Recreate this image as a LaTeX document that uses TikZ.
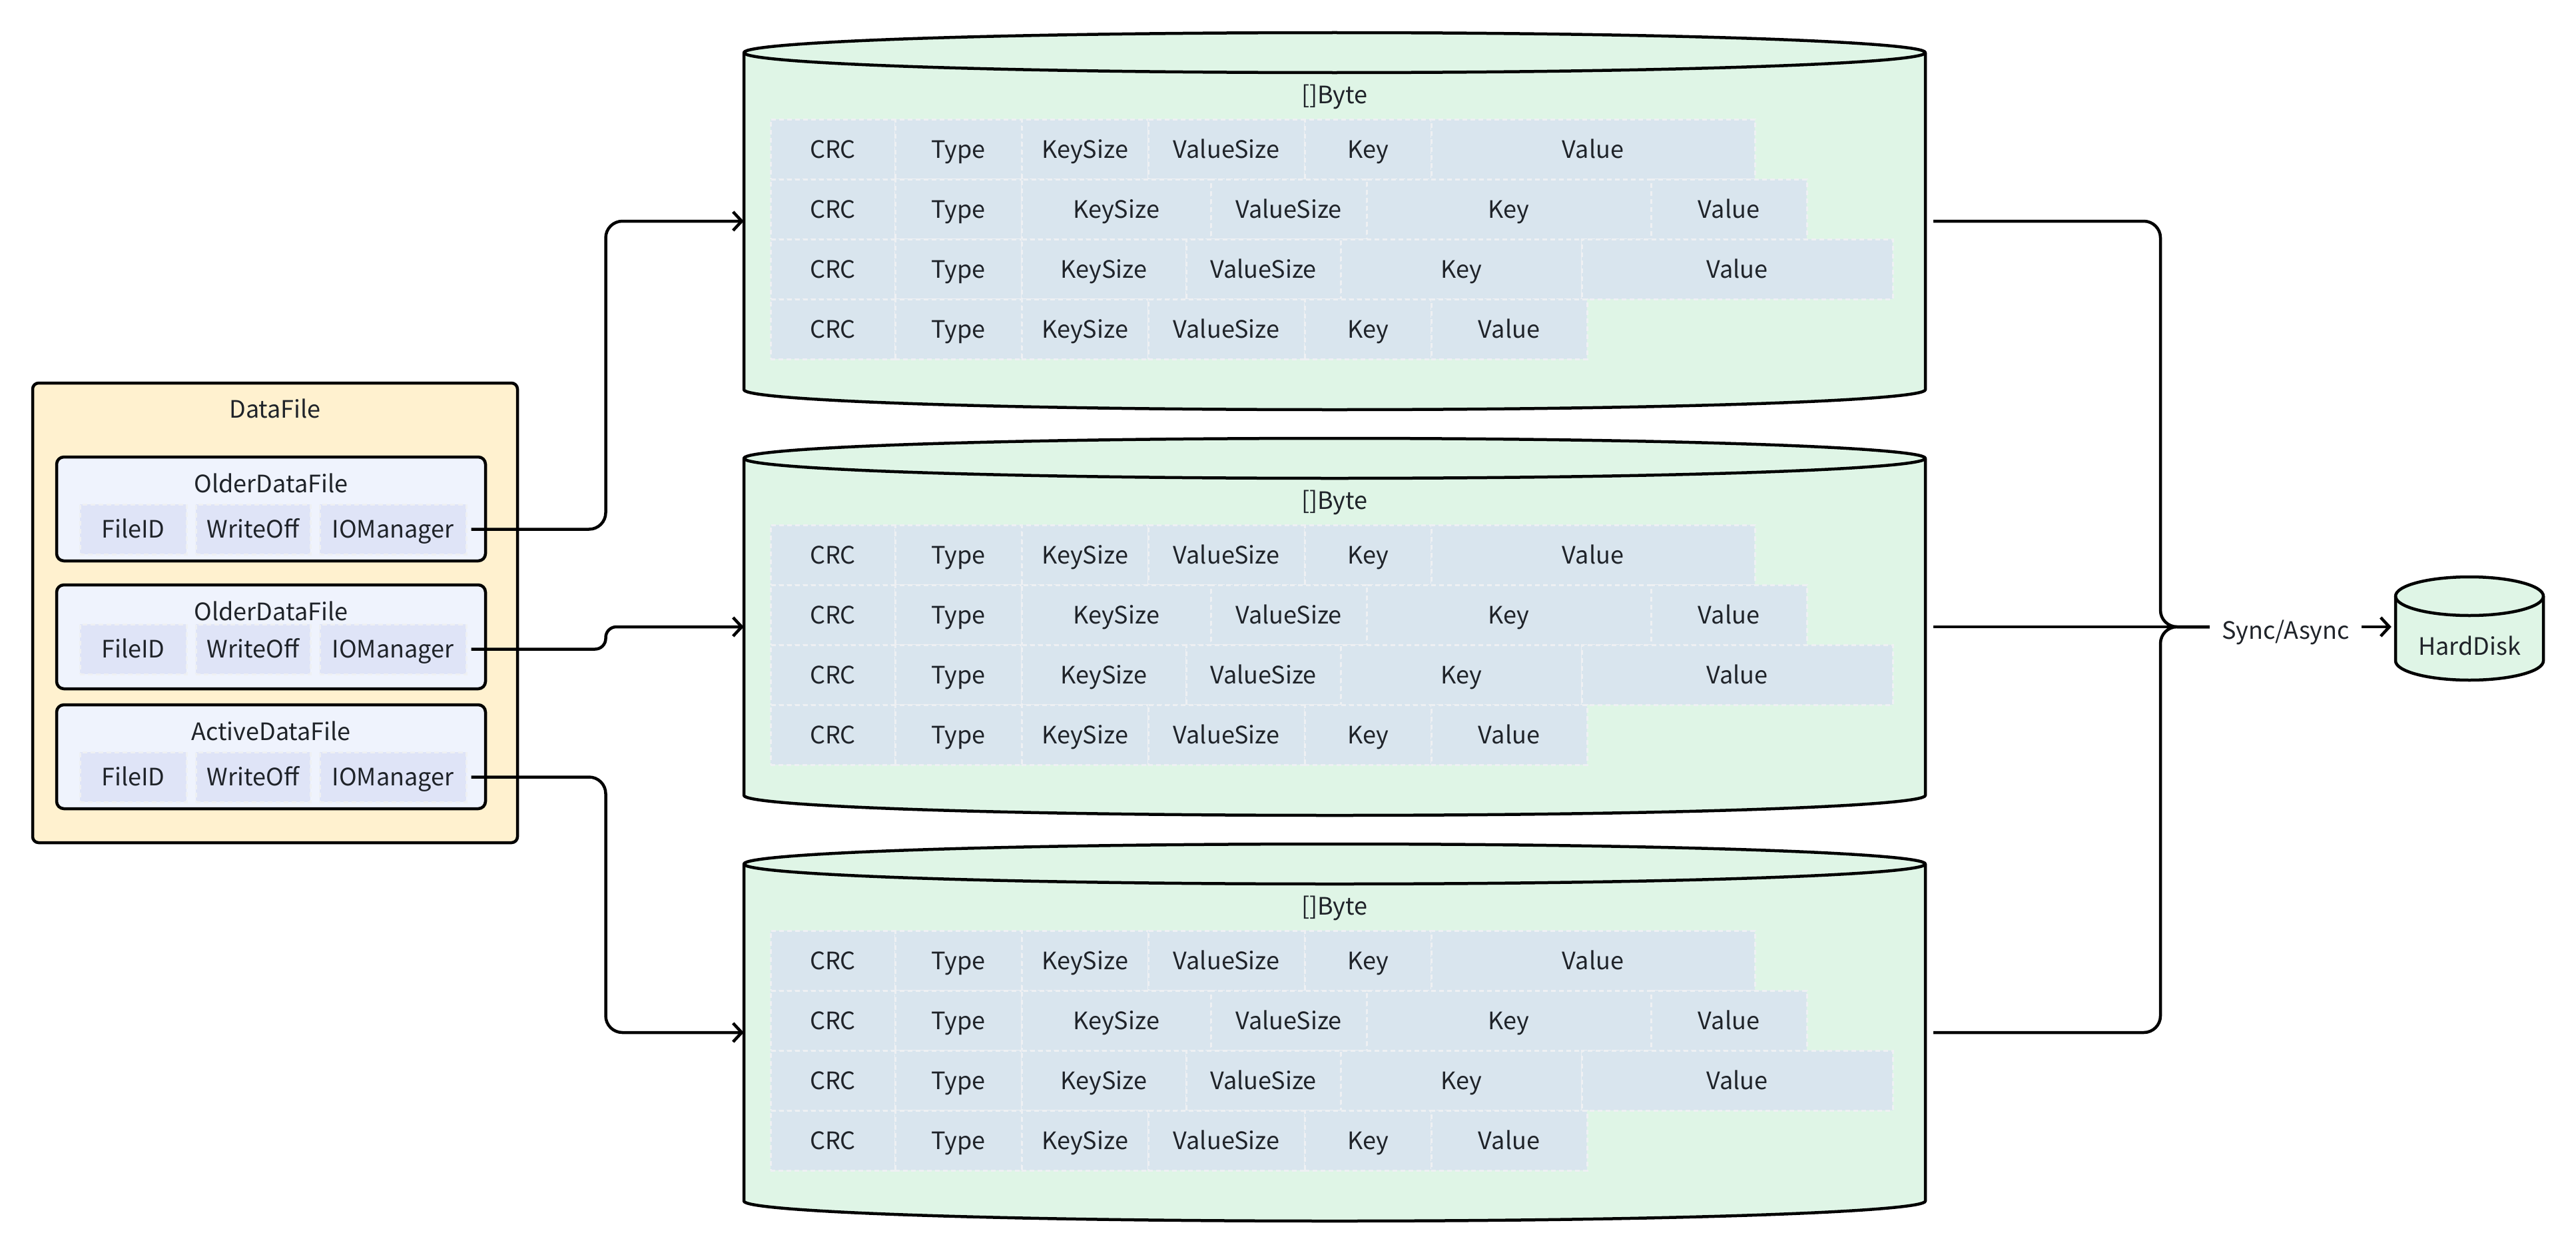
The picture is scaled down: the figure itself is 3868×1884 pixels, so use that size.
\documentclass[tikz,border=0pt]{standalone}
\usepackage{fontspec}
\setmainfont{Noto Sans CJK SC}
\usetikzlibrary{arrows.meta}
\definecolor{cylgreen}{HTML}{DFF5E6}
\definecolor{cellblue}{HTML}{D9E5EE}
\definecolor{cellline}{HTML}{EEF0F3}
\definecolor{dfyellow}{HTML}{FFF1CF}
\definecolor{innerblue}{HTML}{EFF3FD}
\definecolor{fieldblue}{HTML}{DFE4F7}
\definecolor{txt}{HTML}{1F2329}
\tikzset{
  every node/.style={text=txt, font=\fontsize{36}{44}\selectfont},
  cellbox/.style={fill=cellblue, draw=cellline, line width=3pt, dash pattern=on 7pt off 5pt, minimum height=90pt, inner sep=0pt, text height=30pt, text depth=4pt},
  fieldbox/.style={fill=fieldblue, draw=cellline, line width=3pt, dash pattern=on 7pt off 5pt, minimum height=75pt, inner sep=0pt, text height=30pt, text depth=4pt},
  cylline/.style={draw=black, line width=4.5pt, line join=round},
  dfbox/.style={fill=dfyellow, draw=black, line width=4.5pt, rounded corners=9pt, inner sep=0pt},
  innerbox/.style={fill=innerblue, draw=black, line width=4.5pt, rounded corners=11pt, inner sep=0pt},
  conn/.style={draw=black, line width=4.5pt, rounded corners=25pt},
  arr/.style={-{Straight Barb[length=13pt,width=28pt]}},
  ghost/.style={inner sep=0pt, draw=none}
}
\newcommand\drawcyl[6]{%
  \path[fill=cylgreen] (#2,{-(#3+#6)}) -- (#2,{-(#5-#6)})
    arc[start angle=180,end angle=360,x radius={(#4-#2)/2},y radius=#6]
    -- (#4,{-(#3+#6)})
    arc[start angle=0,end angle=180,x radius={(#4-#2)/2},y radius=#6] -- cycle;
  \draw[cylline] (#2,{-(#3+#6)}) -- (#2,{-(#5-#6)})
    arc[start angle=180,end angle=360,x radius={(#4-#2)/2},y radius=#6]
    -- (#4,{-(#3+#6)});
  \draw[cylline] ({(#2+#4)/2},{-(#3+#6)}) ellipse[x radius={(#4-#2)/2},y radius=#6];
  \node[ghost, minimum width={#4-#2}, minimum height={#5-#3}] (#1) at ({(#2+#4)/2},{-(#3+#5)/2}) {};
}
\newcommand\rowcells[9]{%
  \node[cellbox, minimum width={#4-#3}] (#1a) at ({(#3+#4)/2},{-(#2)}) {CRC};
  \node[cellbox, minimum width={#5-#4}] (#1b) at ({(#4+#5)/2},{-(#2)}) {Type};
  \node[cellbox, minimum width={#6-#5}] (#1c) at ({(#5+#6)/2},{-(#2)}) {KeySize};
  \node[cellbox, minimum width={#7-#6}] (#1d) at ({(#6+#7)/2},{-(#2)}) {ValueSize};
  \node[cellbox, minimum width={#8-#7}] (#1e) at ({(#7+#8)/2},{-(#2)}) {Key};
  \node[cellbox, minimum width={#9-#8}] (#1f) at ({(#8+#9)/2},{-(#2)}) {Value};
}
\newcommand\cylblock[2]{% #1 name prefix, #2 top
  \drawcyl{#1}{1117}{#2}{2891}{#2+566}{30}
  \node (#1lbl) at (2004,{-(#2+96)}) {[]Byte};
  \rowcells{#1r1}{#2+175}{1157}{1344}{1534}{1724}{1959}{2149}{2635}
  \rowcells{#1r2}{#2+265}{1157}{1344}{1534}{1818}{2052}{2479}{2713}
  \rowcells{#1r3}{#2+355}{1157}{1344}{1534}{1781}{2013}{2375}{2842}
  \rowcells{#1r4}{#2+445}{1157}{1344}{1534}{1724}{1959}{2149}{2383}
}
\newcommand\fieldrow[2]{% #1 prefix, #2 y
  \node[fieldbox, minimum width=160] (#1id) at (200,{-(#2)}) {FileID};
  \node[fieldbox, minimum width=172] (#1wo) at (380,{-(#2)}) {WriteOff};
  \node[fieldbox, minimum width=220] (#1io) at (590,{-(#2)}) {IOManager};
}
\begin{document}
\begin{tikzpicture}[x=1pt,y=1pt]
\useasboundingbox[fill=white] (0,0) rectangle (3868,-1884);

% DataFile
\node[dfbox, minimum width=728, minimum height=690] (df) at (413,-920) {};
\node (dflbl) at (413,-613) {DataFile};
\node[innerbox, minimum width=644, minimum height=156] (f1) at (407,-764) {};
\node (f1lbl) at (407,-725) {OlderDataFile};
\fieldrow{fa}{794.5}
\node[innerbox, minimum width=644, minimum height=156] (f2) at (407,-956) {};
\node (f2lbl) at (407,-917) {OlderDataFile};
\fieldrow{fb}{974.5}
\node[innerbox, minimum width=644, minimum height=156] (f3) at (407,-1136) {};
\node (f3lbl) at (407,-1097) {ActiveDataFile};
\fieldrow{fc}{1166.5}

% cylinders
\cylblock{cA}{49}
\cylblock{cB}{658}
\cylblock{cC}{1267}

% hard disk
\drawcyl{hd}{3597}{866}{3819}{1021}{29}
\node (hdlbl) at (3708,-969) {HardDisk};

% sync label
\coordinate (mrg) at (3244,-941);
\node[inner xsep=18pt] (sync) at (3432,-949) {Sync/Async};

% left connectors
\draw[conn, arr] ([xshift=6pt]faio.east) -- ++(202,0) |- (cA.west);
\draw[conn, rounded corners=16pt, arr] ([xshift=6pt]fbio.east) -- ++(202,0) |- (cB.west);
\draw[conn, arr] ([xshift=6pt]fcio.east) -- ++(202,0) |- (cC.west);

% right connectors
\draw[conn] ([xshift=12pt]cA.east) -| (mrg) -- (sync.west |- mrg);
\draw[conn] ([xshift=12pt]cB.east) -- (sync.west |- mrg);
\draw[conn] ([xshift=12pt]cC.east) -| (mrg) -- (sync.west |- mrg);
\draw[conn, arr, shorten >=6pt] (sync.east |- mrg) -- (hd.west |- mrg);
\end{tikzpicture}
\end{document}
